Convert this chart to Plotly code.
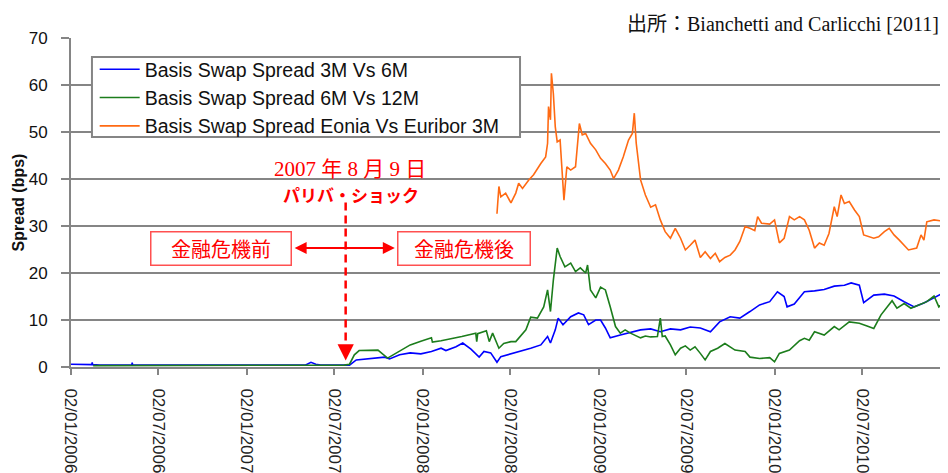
import plotly.graph_objects as go

# ---------------- data ----------------
blue_dates = ["2006-01-02","2006-01-21","2006-02-14","2006-02-15","2006-02-16","2006-03-03","2006-05-08","2006-05-09","2006-05-10","2006-09-28",
              "2007-04-23","2007-05-03","2007-05-15","2007-05-25","2007-06-04","2007-07-23","2007-08-03","2007-08-17","2007-09-03","2007-09-13",
              "2007-10-15","2007-10-25","2007-11-15","2007-12-07","2007-12-29","2008-01-20","2008-02-09","2008-02-19","2008-03-11","2008-03-25",
              "2008-04-11","2008-04-28","2008-05-08","2008-05-22","2008-06-04","2008-06-12","2008-07-03","2008-07-23","2008-08-13","2008-09-03",
              "2008-09-17","2008-09-23","2008-10-03","2008-10-09","2008-10-19","2008-11-04","2008-11-20","2008-12-01","2008-12-11","2008-12-26",
              "2009-01-05","2009-01-15","2009-01-25","2009-02-15","2009-03-08","2009-03-29","2009-04-19","2009-05-09","2009-05-30","2009-06-20",
              "2009-07-10","2009-07-31","2009-08-21","2009-09-09","2009-10-01","2009-10-21","2009-11-11","2009-12-01","2009-12-22","2010-01-07",
              "2010-01-21","2010-01-27","2010-02-11","2010-03-04","2010-03-25","2010-04-14","2010-05-05","2010-05-26","2010-06-09","2010-06-26",
              "2010-07-05","2010-07-26","2010-08-17","2010-09-06","2010-09-27","2010-10-18","2010-11-07","2010-11-28","2010-12-12","2010-12-23"]
blue_vals = [0.6,0.6,0.5,1.0,0.5,0.4,0.4,0.9,0.4,0.4,
             0.4,0.4,1.0,0.6,0.4,0.4,0.4,1.5,1.7,1.8,
             2.1,1.7,2.6,3.0,2.8,3.3,4.0,3.5,4.3,5.1,
             3.8,2.1,3.3,3.0,1.0,2.2,2.8,3.3,4.0,4.7,
             6.5,5.1,7.9,10.4,9.0,10.7,11.5,11.1,9.0,10.0,
             10.0,8.3,6.2,6.8,7.3,7.9,8.1,7.5,8.1,7.9,
             8.5,8.3,7.5,9.6,10.7,10.4,11.8,13.2,13.9,16.0,
             15.0,12.8,13.4,16.0,16.2,16.5,17.2,17.4,17.9,17.4,
             13.7,15.3,15.5,15.1,13.9,12.8,13.6,14.7,15.5,16.6]

green_dates = ["2006-02-17","2007-07-23","2007-08-03","2007-08-13","2007-08-23","2007-10-01","2007-10-21","2007-11-15","2007-12-07","2007-12-29",
               "2008-01-20","2008-01-22","2008-02-09","2008-03-23","2008-04-21","2008-04-23","2008-04-25","2008-05-13","2008-05-19","2008-05-26",
               "2008-06-08","2008-06-18","2008-07-03","2008-07-13","2008-07-23","2008-08-03","2008-08-13","2008-08-27","2008-09-09","2008-09-17",
               "2008-09-23","2008-09-29","2008-10-07","2008-10-13","2008-10-23","2008-11-04","2008-11-14","2008-11-24","2008-12-05","2008-12-09",
               "2008-12-15","2008-12-26","2009-01-05","2009-01-15","2009-01-25","2009-02-05","2009-02-15","2009-02-25","2009-03-08","2009-03-29",
               "2009-04-08","2009-04-19","2009-05-03","2009-05-09","2009-05-13","2009-05-19","2009-05-30","2009-06-09","2009-06-20","2009-06-30",
               "2009-07-10","2009-07-20","2009-07-31","2009-08-10","2009-08-21","2009-09-05","2009-09-20","2009-10-11","2009-11-01","2009-11-11",
               "2009-12-01","2009-12-22","2010-01-01","2010-01-11","2010-02-01","2010-02-22","2010-03-04","2010-03-14","2010-03-25","2010-04-14",
               "2010-05-05","2010-05-15","2010-06-05","2010-06-26","2010-07-12","2010-07-26","2010-08-10","2010-08-22","2010-09-02","2010-09-12",
               "2010-09-27","2010-10-11","2010-10-28","2010-11-13","2010-11-28","2010-12-08","2010-12-23"]
green_vals = [0.3,0.4,0.6,2.6,3.5,3.6,1.9,3.3,4.7,5.5,
              6.2,5.3,5.6,6.5,7.2,5.4,7.1,7.7,5.4,7.2,
              4.0,5.0,5.4,5.4,6.5,7.9,10.6,10.4,12.8,16.4,
              11.8,18.5,25.3,23.5,21.3,22.1,20.3,21.1,20.0,21.7,
              16.4,14.7,17.0,16.4,12.8,8.6,7.2,7.9,7.2,6.2,
              6.6,6.4,6.5,10.4,6.5,6.6,4.7,2.6,4.0,4.5,
              3.6,4.3,2.9,1.5,3.3,4.0,5.0,3.6,3.3,2.1,
              1.8,2.0,1.1,2.9,3.6,5.6,6.1,5.7,7.5,6.8,
              8.6,7.9,9.6,9.3,8.7,8.2,11.1,12.8,14.1,12.5,
              13.5,12.5,13.2,13.9,15.1,12.8,14.1]

orange_dates = ["2008-06-04","2008-06-08","2008-06-12","2008-06-22","2008-07-03","2008-07-13","2008-07-19","2008-07-27","2008-08-09","2008-08-19",
                "2008-09-03","2008-09-13","2008-09-17","2008-09-19","2008-09-23","2008-09-25","2008-09-29","2008-10-03","2008-10-07","2008-10-13",
                "2008-10-17","2008-10-21","2008-10-27","2008-11-04","2008-11-14","2008-11-18","2008-11-22","2008-11-28","2008-12-05","2008-12-15",
                "2008-12-26","2009-01-05","2009-01-15","2009-01-25","2009-02-01","2009-02-11","2009-02-21","2009-03-04","2009-03-12","2009-03-16",
                "2009-03-20","2009-03-29","2009-04-08","2009-04-19","2009-04-29","2009-05-09","2009-05-19","2009-05-30","2009-06-09","2009-06-20",
                "2009-06-30","2009-07-10","2009-07-20","2009-07-31","2009-08-10","2009-08-21","2009-08-31","2009-09-09","2009-09-20","2009-10-01",
                "2009-10-11","2009-10-21","2009-11-01","2009-11-11","2009-11-21","2009-11-27","2009-12-05","2009-12-22","2010-01-01","2010-01-11",
                "2010-01-21","2010-02-01","2010-02-11","2010-02-22","2010-03-04","2010-03-14","2010-03-25","2010-04-04","2010-04-14","2010-04-24",
                "2010-05-05","2010-05-11","2010-05-19","2010-05-26","2010-06-05","2010-06-16","2010-06-26","2010-07-05","2010-07-15","2010-07-26",
                "2010-08-05","2010-08-17","2010-08-27","2010-09-06","2010-09-17","2010-09-27","2010-10-06","2010-10-23","2010-11-01","2010-11-07",
                "2010-11-13","2010-11-28","2010-12-12","2010-12-23"]
orange_vals = [32.6,38.4,36.2,37.0,34.9,37.0,39.1,38.0,39.8,40.9,
               43.3,44.7,47.6,55.4,52.6,62.5,58.2,51.1,47.9,48.3,
               41.9,35.5,42.6,41.9,42.6,47.6,51.8,49.4,49.7,47.6,
               46.2,44.4,43.3,41.9,40.1,41.9,44.7,48.3,49.7,54.0,
               47.6,39.8,36.6,34.0,34.5,31.3,28.8,27.4,29.5,27.4,
               24.9,25.9,27.0,23.3,24.5,23.1,24.2,22.4,23.3,23.8,
               24.9,26.7,29.9,29.5,29.0,32.0,30.6,30.4,31.3,26.4,
               27.4,32.0,31.3,32.0,31.3,29.1,25.3,26.4,25.9,28.4,
               34.1,32.0,36.6,34.8,35.2,33.4,32.0,28.1,27.7,27.4,
               27.7,28.8,29.5,28.1,27.0,25.9,24.9,25.3,28.1,27.0,
               30.9,31.3,31.1,31.6]

assert len(blue_dates) == len(blue_vals)
assert len(green_dates) == len(green_vals)
assert len(orange_dates) == len(orange_vals)

series_names = ["Basis Swap Spread 3M Vs 6M",
                "Basis Swap Spread 6M Vs 12M",
                "Basis Swap Spread Eonia Vs Euribor 3M"]
tick_dates = ["2006-01-02","2006-07-02","2007-01-02","2007-07-02","2008-01-02",
              "2008-07-02","2009-01-02","2009-07-02","2010-01-02","2010-07-02"]
tick_labels = ["02/01/2006","02/07/2006","02/01/2007","02/07/2007","02/01/2008",
               "02/07/2008","02/01/2009","02/07/2009","02/01/2010","02/07/2010"]
y_ticks = [0, 10, 20, 30, 40, 50, 60, 70]

shock_date = "2007-07-26"
# ------------------------------------------------------------------------

SANS = "Liberation Sans, Arial, sans-serif"
SERIF_JP = "Liberation Serif, 'Noto Sans CJK JP', serif"
JP = "'Noto Sans CJK JP', sans-serif"
GRID = "#858585"
RED = "#ff0000"

fig = go.Figure()
fig.add_trace(go.Scatter(x=blue_dates, y=blue_vals, mode="lines", name=series_names[0],
                         line=dict(color="#0000ff", width=1.6)))
fig.add_trace(go.Scatter(x=green_dates, y=green_vals, mode="lines", name=series_names[1],
                         line=dict(color="#1c7d1c", width=1.6)))
fig.add_trace(go.Scatter(x=orange_dates, y=orange_vals, mode="lines", name=series_names[2],
                         line=dict(color="#ff6a13", width=1.6)))

fig.update_layout(
    width=948, height=473,
    margin=dict(l=63, r=8, t=30, b=114),
    paper_bgcolor="white", plot_bgcolor="white",
    font=dict(family=SANS, color="#111111"),
    legend=dict(x=0.027, y=0.9635, xanchor="left", yanchor="top",
                bgcolor="rgba(0,0,0,0)", borderwidth=0,
                font=dict(family=SANS, size=19.5, color="#111111"),
                tracegroupgap=0, itemwidth=40),
    showlegend=True,
)

# legend frame
fig.add_shape(type="rect", xref="paper", yref="paper", x0=0.0239, x1=0.512, y0=0.699, y1=0.9422,
              line=dict(color=GRID, width=2), fillcolor="white", layer="above")

fig.update_xaxes(
    type="date", range=["2006-01-02", "2010-12-27"],
    tickmode="array", tickvals=tick_dates, ticktext=tick_labels,
    tickangle=90, ticks="outside", ticklen=6, tickwidth=2, tickcolor=GRID,
    tickfont=dict(family=SANS, size=17, color="#222222"),
    ticklabelstandoff=10,
    showgrid=False, showline=True, linecolor=GRID, linewidth=2,
    zeroline=False, automargin=False,
)
fig.update_yaxes(
    range=[0, 70], tickmode="array", tickvals=y_ticks,
    ticks="outside", ticklen=8, tickwidth=2, tickcolor=GRID,
    tickfont=dict(family=SANS, size=17, color="#111111"),
    ticklabelstandoff=10,
    showgrid=True, gridcolor=GRID, gridwidth=2,
    showline=True, linecolor=GRID, linewidth=2, zeroline=False,
    title=dict(text="<b>Spread (bps)</b>", font=dict(family=SANS, size=16, color="#111111"), standoff=0),
    automargin=False,
)

# dashed vertical marker line + down arrow head
fig.add_shape(type="line", xref="x", yref="y", x0=shock_date, x1=shock_date, y0=35.0, y1=3.0,
              line=dict(color=RED, width=2.5, dash="8px,5px"))
fig.add_annotation(x=shock_date, y=1.4, ax=shock_date, ay=3.6, xref="x", yref="y",
                   axref="x", ayref="y", text="", showarrow=True,
                   arrowhead=2, arrowsize=1.3, arrowwidth=2.5, arrowcolor=RED)

# double-headed horizontal arrow
fig.add_annotation(x="2007-11-05", y=25.3, ax="2007-04-08", ay=25.3, xref="x", yref="y",
                   axref="x", ayref="y", text="", showarrow=True, arrowside="end+start",
                   arrowhead=2, arrowsize=1.2, arrowwidth=2, arrowcolor=RED)

# texts
fig.add_annotation(x="2007-08-05", y=42.1, xref="x", yref="y", text="2007 年 8 月 9 日",
                   showarrow=False, font=dict(family=SERIF_JP, size=21, color=RED))
fig.add_annotation(x="2007-08-07", y=36.6, xref="x", yref="y", text="<b>パリバ・ショック</b>",
                   showarrow=False, font=dict(family=JP, size=17, color=RED))
fig.add_annotation(x="2006-11-09", y=25.3, xref="x", yref="y", text="金融危機前",
                   showarrow=False, font=dict(family=JP, size=20, color=RED),
                   bordercolor="#ff5050", borderwidth=1.5, borderpad=2, width=135, height=28,
                   bgcolor="white")
fig.add_annotation(x="2008-03-27", y=25.3, xref="x", yref="y", text="金融危機後",
                   showarrow=False, font=dict(family=JP, size=20, color=RED),
                   bordercolor="#ff5050", borderwidth=1.5, borderpad=2, width=127, height=28,
                   bgcolor="white")

# source note
fig.add_annotation(x=1, y=1, xref="paper", yref="paper", xanchor="right", yanchor="bottom",
                   xshift=-8, yshift=2, borderpad=0, text="出所：Bianchetti and Carlicchi [2011]",
                   showarrow=False, font=dict(family=SERIF_JP, size=20, color="#111111"))

fig.write_html("out.html")
